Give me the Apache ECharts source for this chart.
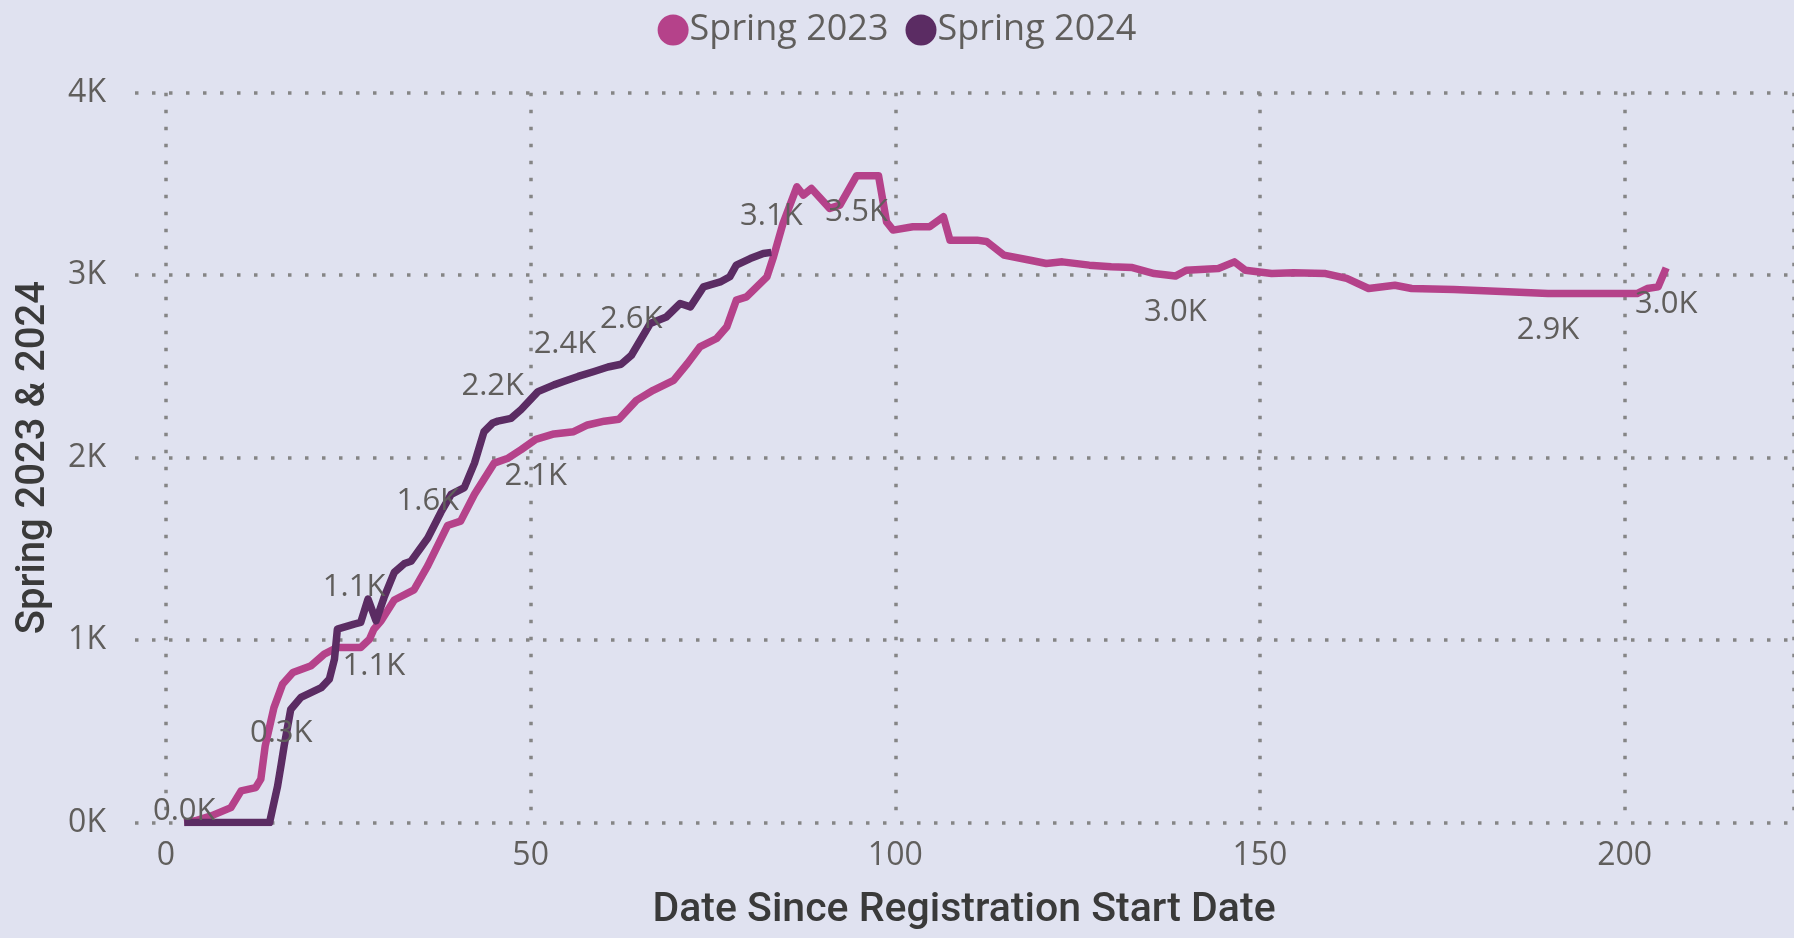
<!DOCTYPE html>
<html>
<head>
<meta charset="utf-8">
<script src="https://cdn.jsdelivr.net/npm/echarts@6/dist/echarts.min.js"></script>
<style>
html,body{margin:0;padding:0;background:#E0E2F0;}
#chart{width:1794px;height:938px;}
</style>
</head>
<body>
<div id="chart"></div>
<script>
// ---- data ----
const days2023 = [2.5,4.0,6.2,8.9,10.3,12.3,13.0,13.6,14.8,16.0,17.4,19.9,21.7,23.5,26.7,27.9,28.5,29.5,31.3,34.0,35.9,38.6,40.4,42.3,45.0,46.8,48.7,50.7,53.2,55.9,57.8,60.1,62.1,64.5,66.8,69.6,71.5,73.2,75.5,76.9,78.2,79.6,81.0,82.4,83.3,84.6,86.5,87.4,88.5,91.0,92.4,94.7,97.7,98.8,99.7,102.4,104.7,106.6,107.5,111.2,112.5,114.9,118.5,120.7,122.9,126.6,129.6,132.5,135.5,138.4,139.9,144.3,146.5,148.0,151.6,154.6,159.0,161.9,164.9,168.5,170.8,176.6,184.0,189.5,195.8,201.7,203.1,204.6,205.7];
const values2023 = [0,10,37,82,174,192,238,420,630,760,823,860,923,960,960,1005,1060,1106,1220,1275,1408,1628,1652,1799,1970,1995,2044,2100,2130,2142,2179,2200,2210,2314,2369,2424,2516,2607,2653,2717,2863,2881,2936,2991,3101,3283,3484,3439,3475,3366,3384,3545,3545,3292,3247,3265,3265,3320,3192,3192,3185,3110,3082,3064,3073,3055,3046,3042,3009,2995,3027,3037,3073,3027,3009,3013,3009,2982,2927,2945,2927,2921,2909,2899,2899,2899,2927,2936,3040];
const labelDays2023 = [28.5,50.7,94.7,138.4,189.5,205.7];

const days2024 = [2.5,14.2,15.3,15.8,16.2,17.1,18.5,21.3,22.4,23.1,23.5,25.8,26.7,27.7,28.8,29.9,31.3,32.7,33.6,35.9,37.7,39.1,40.9,42.3,43.6,44.8,45.5,47.3,48.7,51.0,53.2,54.7,56.5,58.7,60.6,62.4,63.8,66.4,68.6,70.5,71.9,73.7,76.0,77.3,78.2,80.1,81.9,83.0];
const values2024 = [0,0,200,320,420,620,686,740,786,896,1060,1088,1097,1225,1106,1234,1371,1420,1432,1560,1701,1799,1836,1970,2142,2190,2200,2215,2264,2362,2399,2420,2445,2472,2497,2512,2560,2735,2771,2845,2826,2936,2963,2991,3055,3091,3119,3125];
const labelDays2024 = [2.5,15.8,25.8,35.9,44.8,54.7,63.8,83.0];

const seriesNames = ['Spring 2023','Spring 2024'];
const yTickValues = [0,1000,2000,3000,4000];
const xTickValues = [0,50,100,150,200];

// ---- styles ----
const PINK = '#B5428A';
const PURPLE = '#5B2C63';
const LABEL_COLOR = '#605E5C';
const TITLE_COLOR = '#3A3A3A';
const SANS = '"Open Sans", "Noto Sans", sans-serif';
const TITLE_FONT = 'Roboto, "Noto Sans", sans-serif';
const fmtK = v => (v/1000).toFixed(1) + 'K';
const specialDistance = {'2024_2.5': -4, '2024_15.8': 15};

function build(days, values, labelDays, key, pos) {
  return days.map((d, i) => {
    const item = {value: [d, values[i]]};
    if (labelDays.indexOf(d) >= 0) {
      const k = key + '_' + d;
      item.label = {show: true, position: pos,
        distance: (k in specialDistance) ? specialDistance[k] : 21};
    }
    return item;
  });
}

const dotted = {color: '#858585', width: 3.5, type: [3.5, 13.5], cap: 'butt'};
const PXDAY = 7.293;
const XMAX = 1628 / PXDAY;
const XMIN_BG = -31 / PXDAY;

const chart = echarts.init(document.getElementById('chart'), null, {renderer: 'canvas'});
chart.setOption({
  backgroundColor: '#E0E2F0',
  animation: false,
  legend: {
    top: 7, left: 'center',
    icon: 'circle', itemWidth: 31, itemHeight: 31, itemGap: 17,
    data: seriesNames,
    textStyle: {fontFamily: SANS, fontSize: 36, color: '#605E5C', padding: [0,0,0,-4]}
  },
  grid: [
    {left: 166, right: 0, top: 92.7, bottom: 115.4},
    {left: 135, right: 0, top: 92.7, bottom: 115.4}
  ],
  xAxis: [
    {gridIndex: 0, type: 'value', min: 0, max: XMAX, interval: 50,
     axisLine: {show: false}, axisTick: {show: false},
     axisLabel: {fontFamily: SANS, fontSize: 32, color: LABEL_COLOR, margin: 17, showMaxLabel: false,
       formatter: v => xTickValues.indexOf(v) >= 0 ? String(v) : ''},
     splitLine: {show: true, lineStyle: dotted},
     name: 'Date Since Registration Start Date', nameLocation: 'middle', nameGap: 68,
     nameTextStyle: {fontFamily: TITLE_FONT, fontWeight: 500, fontSize: 41, color: TITLE_COLOR, padding: [0, 32, 0, 0]}},
    {gridIndex: 1, type: 'value', min: XMIN_BG, max: XMAX, show: false}
  ],
  yAxis: [
    {gridIndex: 0, type: 'value', min: 0, max: 4000, interval: 1000, show: false},
    {gridIndex: 1, type: 'value', min: 0, max: 4000, interval: 1000,
     axisLine: {show: false}, axisTick: {show: false},
     axisLabel: {fontFamily: SANS, fontSize: 32, color: LABEL_COLOR, margin: 29,
       formatter: v => yTickValues.indexOf(v) >= 0 ? (v/1000) + 'K' : ''},
     splitLine: {show: true, lineStyle: dotted},
     name: 'Spring 2023 & 2024', nameLocation: 'middle', nameGap: 81,
     nameTextStyle: {fontFamily: TITLE_FONT, fontWeight: 500, fontSize: 40, color: TITLE_COLOR}}
  ],
  series: [
    {name: seriesNames[0], type: 'line', xAxisIndex: 0, yAxisIndex: 0,
     data: build(days2023, values2023, labelDays2023, '2023', 'bottom'),
     color: PINK, symbol: 'circle', symbolSize: 0.1, showSymbol: true, showAllSymbol: true,
     lineStyle: {width: 7.5, color: PINK, join: 'round'},
     label: {show: false, fontFamily: SANS, fontSize: 31, color: LABEL_COLOR, formatter: p => fmtK(p.value[1])},
     z: 3},
    {name: seriesNames[1], type: 'line', xAxisIndex: 0, yAxisIndex: 0,
     data: build(days2024, values2024, labelDays2024, '2024', 'top'),
     color: PURPLE, symbol: 'circle', symbolSize: 0.1, showSymbol: true, showAllSymbol: true,
     lineStyle: {width: 7.5, color: PURPLE, join: 'round'},
     label: {show: false, fontFamily: SANS, fontSize: 31, color: LABEL_COLOR, formatter: p => fmtK(p.value[1])},
     z: 4}
  ]
});
</script>
</body>
</html>
